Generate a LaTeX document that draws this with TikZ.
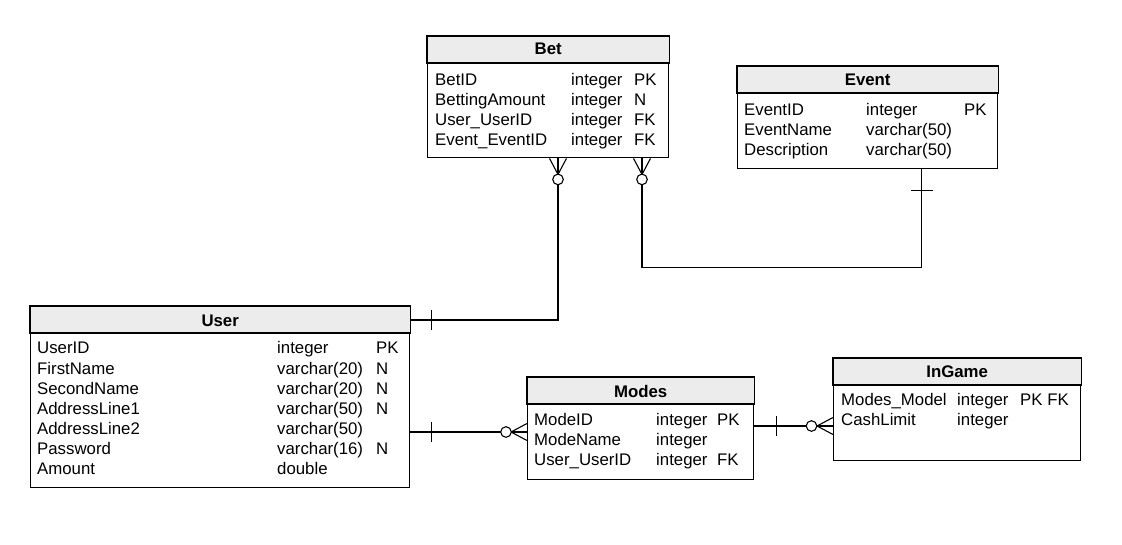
\documentclass[tikz,border=0pt]{standalone}
\usepackage{fontspec}
\setmainfont{Liberation Sans}
\usetikzlibrary{calc}
\definecolor{hdrgray}{RGB}{236,236,236}
\tikzset{
  tbl/.style={draw, line width=1.4pt, anchor=north west, inner sep=0pt, fill=white},
  hdr/.style={fill=hdrgray, draw, line width=1.4pt},
  ttl/.style={font=\fontsize{16.8}{20}\selectfont\bfseries, inner sep=0pt, anchor=base},
  cell/.style={font=\fontsize{16.8}{20}\selectfont, inner sep=0pt, anchor=base west},
  conn/.style={line width=1.1pt},
  ring/.style={line width=1.1pt, fill=white},
}
\begin{document}
\begin{tikzpicture}[x=1pt,y=-1pt]
\useasboundingbox (0,0) rectangle (1122,544);

% ---------- Bet ----------
\node[tbl, minimum width=241pt, minimum height=121pt] (bet) at (427,36) {};
\draw[hdr] (bet.north west) rectangle ($(bet.north east)+(0,27)$);
\node[ttl] (bet-t) at ($(bet.north)+(0,18.5)$) {Bet};
\foreach \n/\t/\k [count=\i] in {BetID/integer/PK, BettingAmount/integer/N, User\_UserID/integer/FK, Event\_EventID/integer/FK} {
  \node[cell] (bet-n\i) at (435,65+20*\i) {\n};
  \node[cell] (bet-y\i) at (571,65+20*\i) {\t};
  \node[cell] (bet-k\i) at (634,65+20*\i) {\k};
}

% ---------- Event ----------
\node[tbl, minimum width=260pt, minimum height=102pt] (event) at (737,66) {};
\draw[hdr] (event.north west) rectangle ($(event.north east)+(0,27)$);
\node[ttl] (event-t) at ($(event.north)+(0,19)$) {Event};
\foreach \n/\t/\k [count=\i] in {EventID/integer/PK, EventName/varchar(50)/{}, Description/varchar(50)/{}} {
  \node[cell] (event-n\i) at (744,95+20*\i) {\n};
  \node[cell] (event-y\i) at (866,95+20*\i) {\t};
  \node[cell] (event-k\i) at (964,95+20*\i) {\k};
}

% ---------- User ----------
\node[tbl, minimum width=379pt, minimum height=181pt] (user) at (30,306) {};
\draw[hdr] (user.north west) rectangle ($(user.north east)+(0,27)$);
\node[ttl] (user-t) at ($(user.north)+(0,20)$) {User};
\foreach \n/\t/\k [count=\i] in {UserID/integer/PK, FirstName/varchar(20)/N, SecondName/varchar(20)/N, AddressLine1/varchar(50)/N, AddressLine2/varchar(50)/{}, Password/varchar(16)/N, Amount/double/{}} {
  \node[cell] (user-n\i) at (37,333.8+20.17*\i) {\n};
  \node[cell] (user-y\i) at (277,333.8+20.17*\i) {\t};
  \node[cell] (user-k\i) at (376,333.8+20.17*\i) {\k};
}

% ---------- Modes ----------
\node[tbl, minimum width=226pt, minimum height=102pt] (modes) at (527,377) {};
\draw[hdr] (modes.north west) rectangle ($(modes.north east)+(0,27)$);
\node[ttl] (modes-t) at ($(modes.north)+(0,20)$) {Modes};
\foreach \n/\t/\k [count=\i] in {ModeID/integer/PK, ModeName/integer/{}, User\_UserID/integer/FK} {
  \node[cell] (modes-n\i) at (534,405+20*\i) {\n};
  \node[cell] (modes-y\i) at (656,405+20*\i) {\t};
  \node[cell] (modes-k\i) at (717,405+20*\i) {\k};
}

% ---------- InGame ----------
\node[tbl, minimum width=247pt, minimum height=102pt] (ingame) at (833,358) {};
\draw[hdr] (ingame.north west) rectangle ($(ingame.north east)+(0,27)$);
\node[ttl] (ingame-t) at ($(ingame.north)+(0,19.5)$) {InGame};
\foreach \n/\t/\k [count=\i] in {Modes\_Model/integer/PK FK, CashLimit/integer/{}} {
  \node[cell] (ingame-n\i) at (841,385+20*\i) {\n};
  \node[cell] (ingame-y\i) at (957,385+20*\i) {\t};
  \node[cell] (ingame-k\i) at (1020,385+20*\i) {\k};
}

% ---------- connection points ----------
\coordinate (b1) at ($(bet.south west)+(131,0)$);
\coordinate (b2) at ($(bet.south west)+(215,0)$);
\coordinate (e1) at ($(event.south west)+(184.5,0)$);
\coordinate (u1) at ($(user.north east)+(0,14)$);
\coordinate (u2) at ($(user.north east)+(0,126)$);
\coordinate (m1) at ($(modes.north west)+(0,55)$);
\coordinate (m2) at ($(modes.north east)+(0,49)$);
\coordinate (i1) at ($(ingame.north west)+(0,68)$);

% Bet -- User
\draw[conn] (b1) -- (b1 |- u1) -- (u1);
\draw[conn] ($(b1)+(-8.5,0)$) -- ($(b1)+(0,16)$) -- ($(b1)+(8.5,0)$);
\draw[ring] ($(b1)+(0,21)$) circle[radius=5.3pt];
\draw[conn] ($(u1)+(21,-10)$) -- ($(u1)+(21,10)$);

% Bet -- Event
\draw[conn] (b2) -- ++(0,109) -| (e1);
\draw[conn] ($(b2)+(-8.5,0)$) -- ($(b2)+(0,16)$) -- ($(b2)+(8.5,0)$);
\draw[ring] ($(b2)+(0,21)$) circle[radius=5.3pt];
\draw[conn] ($(e1)+(-11,21)$) -- ($(e1)+(11,21)$);

% User -- Modes
\draw[conn] (u2) -- (m1);
\draw[conn] ($(u2)+(21,-10)$) -- ($(u2)+(21,10)$);
\draw[conn] ($(m1)+(0,-8.5)$) -- ($(m1)+(-16,0)$) -- ($(m1)+(0,8.5)$);
\draw[ring] ($(m1)+(-21,0)$) circle[radius=5.3pt];

% Modes -- InGame
\draw[conn] (m2) -- (i1);
\draw[conn] ($(m2)+(22,-10)$) -- ($(m2)+(22,10)$);
\draw[conn] ($(i1)+(0,-8.5)$) -- ($(i1)+(-16,0)$) -- ($(i1)+(0,8.5)$);
\draw[ring] ($(i1)+(-21.5,0)$) circle[radius=5.3pt];
\end{tikzpicture}
\end{document}
